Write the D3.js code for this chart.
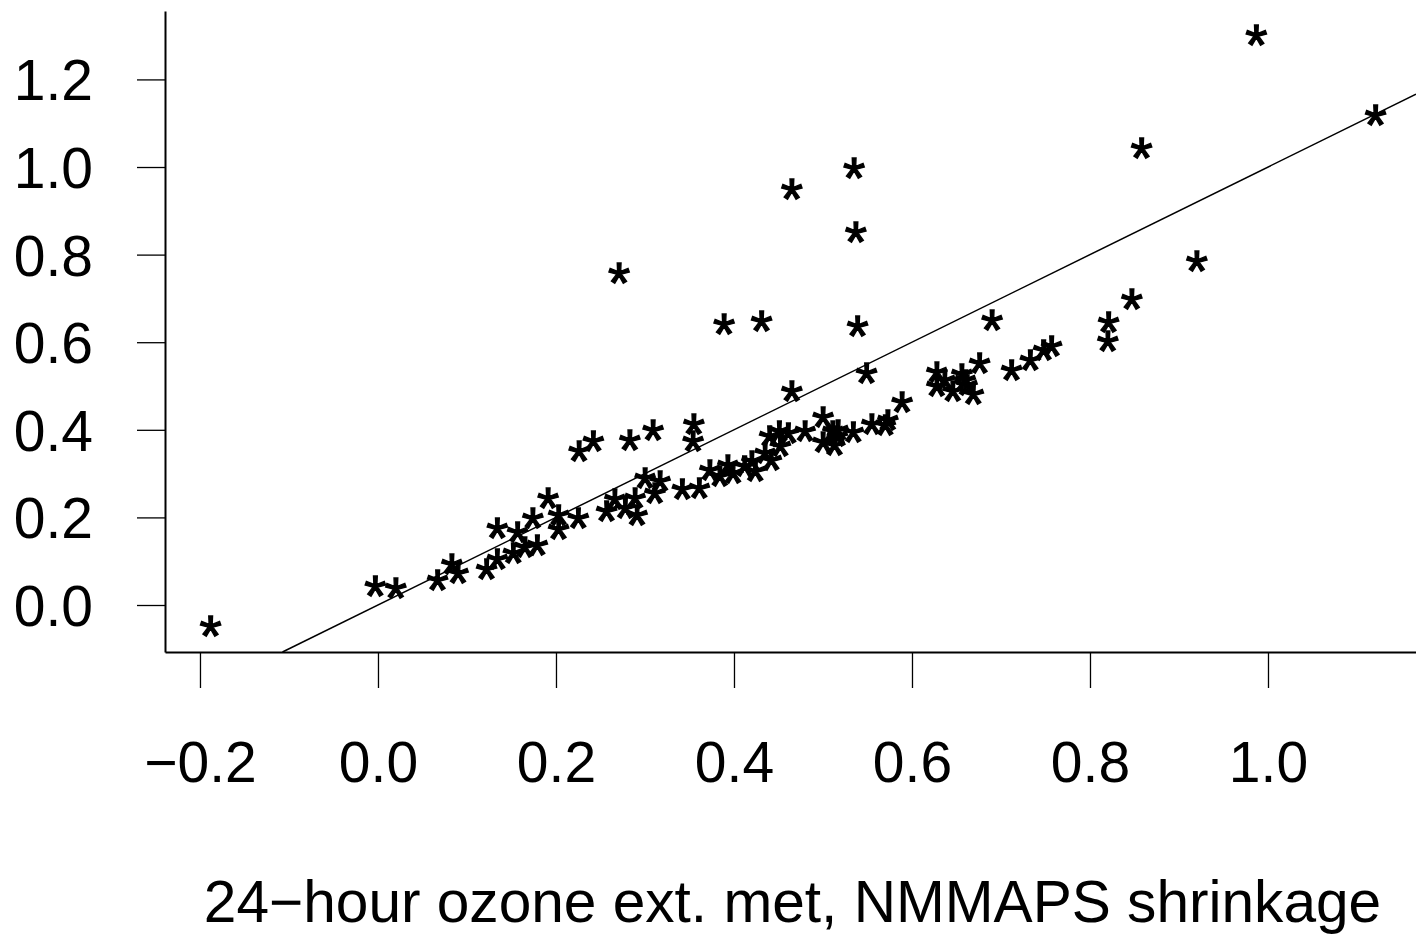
<!DOCTYPE html>
<html>
<head>
<meta charset="utf-8">
<script src="https://cdn.jsdelivr.net/npm/d3@7"></script>
<style>
  body { margin: 0; background: #fff; }
  text { font-family: "Liberation Sans", Arial, Helvetica, sans-serif; }
</style>
</head>
<body>
<svg id="chart" width="1416" height="940"></svg>
<script>
// shrinkage estimate on x, comparison estimate on y
const xVals = [-0.188, -0.003, 0.020, 0.067, 0.083, 0.090, 0.122, 0.134, 0.134, 0.152,
  0.157, 0.165, 0.179, 0.174, 0.191, 0.203, 0.203, 0.225, 0.226, 0.242,
  0.283, 0.309, 0.355, 0.354, 0.257, 0.266, 0.278, 0.289, 0.291, 0.300,
  0.311, 0.317, 0.342, 0.361, 0.373, 0.384, 0.393, 0.399, 0.412, 0.420,
  0.424, 0.435, 0.442, 0.440, 0.452, 0.451, 0.461, 0.480, 0.465, 0.500,
  0.500, 0.513, 0.511, 0.517, 0.516, 0.534, 0.555, 0.570, 0.573, 0.589,
  0.549, 0.539, 0.537, 0.535, 0.465, 0.431, 0.389, 0.271, 0.628, 0.628,
  0.637, 0.646, 0.656, 0.660, 0.662, 0.669, 0.676, 0.690, 0.712, 0.733,
  0.748, 0.757, 0.820, 0.821, 0.847, 0.858, 0.920, 0.987, 1.121];
const yVals = [-0.053, 0.039, 0.034, 0.053, 0.089, 0.068, 0.078, 0.100, 0.171, 0.114,
  0.162, 0.128, 0.132, 0.194, 0.240, 0.201, 0.169, 0.194, 0.347, 0.370,
  0.372, 0.395, 0.409, 0.370, 0.210, 0.237, 0.217, 0.240, 0.201, 0.285,
  0.251, 0.279, 0.260, 0.263, 0.304, 0.290, 0.315, 0.297, 0.313, 0.324,
  0.301, 0.342, 0.326, 0.381, 0.358, 0.393, 0.388, 0.393, 0.484, 0.425,
  0.368, 0.361, 0.393, 0.395, 0.381, 0.390, 0.409, 0.406, 0.418, 0.459,
  0.525, 0.632, 0.847, 0.993, 0.945, 0.644, 0.637, 0.753, 0.527, 0.495,
  0.509, 0.484, 0.523, 0.509, 0.498, 0.477, 0.548, 0.646, 0.532, 0.555,
  0.578, 0.587, 0.598, 0.642, 0.694, 1.039, 0.781, 1.297, 1.114];

const xTicks = [-0.2, 0.0, 0.2, 0.4, 0.6, 0.8, 1.0];
const yTicks = [0.0, 0.2, 0.4, 0.6, 0.8, 1.0, 1.2];
const xTitle = "24\u2212hour ozone ext. met, NMMAPS shrinkage";

const points = xVals.map((d, i) => ({x: d, y: yVals[i]}));

const svg = d3.select("#chart");
const fontSize = 57;

// plot region edges
const plot = {left: 165, right: 1416, top: 11, bottom: 652};

const x = d3.scaleLinear()
    .domain([-0.2393, 1.1663])
    .range([plot.left, plot.right]);

const y = d3.scaleLinear()
    .domain([-0.1073, 1.3562])
    .range([plot.bottom, plot.top]);

const fmt = d3.format(".1f");

// x axis
const gx = svg.append("g")
    .attr("transform", `translate(0,${plot.bottom})`)
    .call(d3.axisBottom(x).tickValues(xTicks).tickFormat(fmt)
      .tickSize(36).tickSizeOuter(0));
gx.select(".domain").attr("stroke-width", 2);
gx.selectAll(".tick line").attr("stroke-width", 1.3);
gx.selectAll(".tick text")
    .attr("y", 130)
    .attr("dy", null)
    .attr("font-size", fontSize)
    .attr("fill", "#000");

// y axis
const gy = svg.append("g")
    .attr("transform", `translate(${plot.left},0)`)
    .call(d3.axisLeft(y).tickValues(yTicks).tickFormat(fmt)
      .tickSize(28).tickSizeOuter(0).tickPadding(44));
gy.select(".domain").attr("stroke-width", 2);
gy.selectAll(".tick line").attr("stroke-width", 1.3);
gy.selectAll(".tick text")
    .attr("dy", "0.36em")
    .attr("font-size", fontSize)
    .attr("fill", "#000");

svg.selectAll(".domain, .tick line").attr("stroke", "#000");
svg.selectAll("g").attr("font-family", null).attr("font-size", null);

// x title
svg.append("text")
    .attr("x", (plot.left + plot.right) / 2 + 2)
    .attr("y", 922)
    .attr("text-anchor", "middle")
    .attr("font-size", 58.6)
    .text(xTitle);

// identity line clipped to the plot region
const lo = Math.max(x.domain()[0], y.domain()[0]);
const hi = Math.min(x.domain()[1], y.domain()[1]);
svg.append("path")
    .datum([[lo, lo], [hi, hi]])
    .attr("fill", "none")
    .attr("stroke", "#000")
    .attr("stroke-width", 1.5)
    .attr("d", d3.line().x(d => x(d[0])).y(d => y(d[1])));

// asterisk markers
svg.append("g")
  .selectAll("text")
  .data(points)
  .join("text")
    .attr("x", d => x(d.x))
    .attr("y", d => y(d.y))
    .attr("dy", "0.49em")
    .attr("text-anchor", "middle")
    .attr("font-size", fontSize)
    .attr("stroke", "#000")
    .attr("stroke-width", 1.4)
    .text("*");
</script>
</body>
</html>
